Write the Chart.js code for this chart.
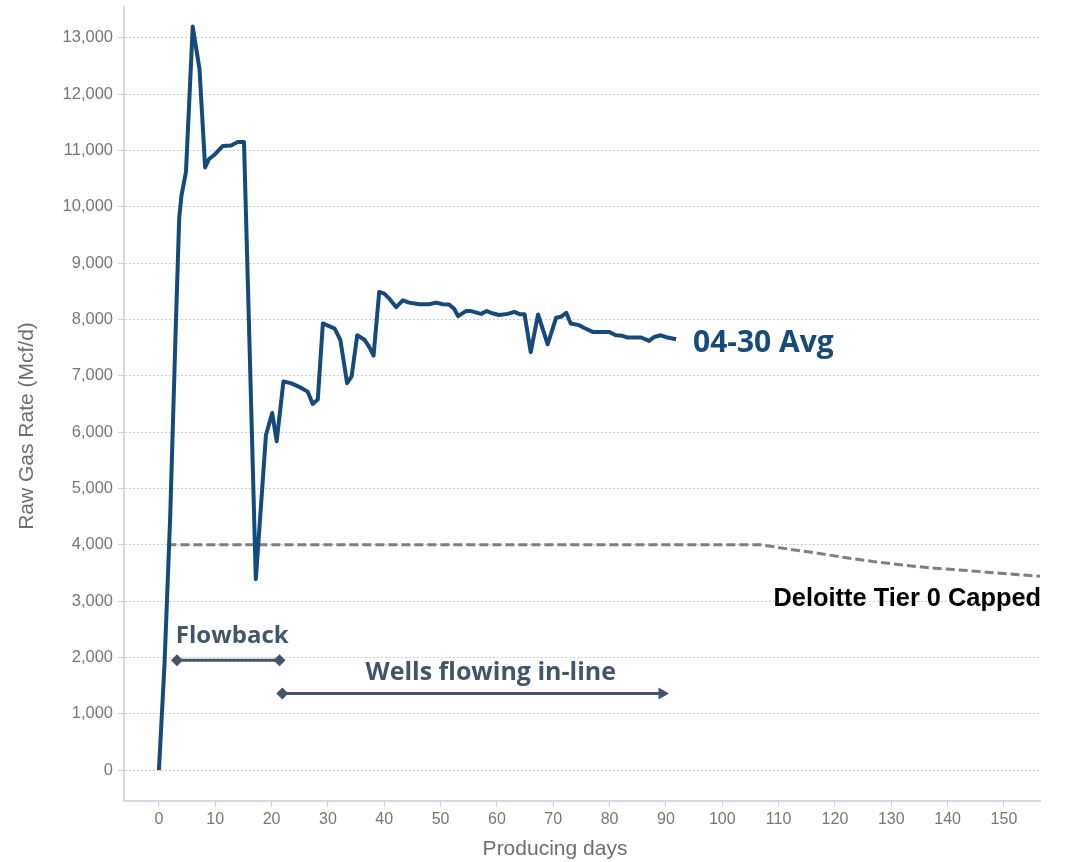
<!DOCTYPE html>
<html>
<head>
<meta charset="utf-8">
<script src="https://cdn.jsdelivr.net/npm/chart.js@4.4.0/dist/chart.umd.min.js"></script>
<style>
  html, body { margin: 0; padding: 0; background: #fff; }
  #wrap { width: 1071px; height: 862px; position: relative; }
</style>
</head>
<body>
<div id="wrap"><canvas id="c"></canvas></div>
<script>
'use strict';

// 04-30 average raw gas rate (Mcf/d) by producing day
const avgDays = [0, 1, 2, 3, 3.6, 4, 4.8, 6, 7.2, 8.2, 8.9, 9.8, 11.3, 12.8, 14, 15.1, 15.8, 17.2,
  19.0, 20.1, 20.9, 22.1, 23.4, 25.2, 26.4, 27.3, 28.2, 29.1, 30.5, 31.2, 32.2, 33.4, 34.2, 35.2,
  36.5, 37.3, 38.1, 39.1, 40.0, 40.9, 42.1, 43.3, 44.4, 46.2, 48.0, 49.2, 50.4, 51.5, 52.4, 53.1,
  54.5, 55.4, 57.2, 58.2, 59.2, 60.4, 61.9, 63.1, 64.0, 64.9, 66.0, 67.3, 69.0, 70.5, 71.4, 72.3,
  73.1, 74.6, 75.5, 77.0, 78.5, 79.9, 81.1, 82.3, 83.2, 84.4, 85.6, 87.0, 87.9, 89.1, 90.3, 91.8];
const avgRate = [0, 1900, 4500, 7900, 9800, 10200, 10620, 13200, 12450, 10700, 10850, 10920, 11080, 11090, 11150, 11150, 8600, 3390,
  5950, 6340, 5840, 6900, 6870, 6790, 6720, 6500, 6580, 7930, 7870, 7840, 7640, 6870, 6990, 7720,
  7640, 7520, 7360, 8490, 8460, 8370, 8220, 8340, 8300, 8270, 8270, 8300, 8270, 8265, 8190, 8060,
  8150, 8150, 8100, 8150, 8110, 8080, 8100, 8135, 8095, 8095, 7420, 8090, 7560, 8030, 8050, 8120,
  7930, 7900, 7850, 7780, 7780, 7780, 7720, 7710, 7680, 7680, 7680, 7620, 7690, 7720, 7680, 7650];

// Deloitte Tier 0 capped curve
const capDays = [1.5, 107, 112, 117, 122, 127, 132, 137, 142, 147, 152, 156.4];
const capRate = [4000, 4000, 3920, 3850, 3770, 3700, 3640, 3590, 3555, 3515, 3475, 3440];

// phase arrows
const flowbackDays = [3.2, 21.4];
const flowbackRate = [1950, 1950];
const inlineDays = [21.9, 89.3];
const inlineRate = [1360, 1360];

const xTicks = [0, 10, 20, 30, 40, 50, 60, 70, 80, 90, 100, 110, 120, 130, 140, 150];
const yTicks = [0, 1000, 2000, 3000, 4000, 5000, 6000, 7000, 8000, 9000, 10000, 11000, 12000, 13000];

// text annotations
const labelText = ['Flowback', 'Wells flowing in-line', '04-30 Avg', 'Deloitte Tier 0 Capped'];
const labelDay = [3.0, 58.9, 94.8, 156.6];
const labelRate = [2370, 1733, 7570, 3042];

const xTitle = 'Producing days';
const yTitle = 'Raw Gas Rate (Mcf/d)';

const labelStyle = [
  {font: 'bold 24px "Open Sans"', color: '#44546a', align: 'left'},
  {font: 'bold 25px "Open Sans"', color: '#44546a', align: 'center'},
  {font: 'bold 30px "Open Sans"', color: '#164a7b', align: 'left'},
  {font: 'bold 25.4px "Liberation Sans"', color: '#000000', align: 'right'}
];

function pts(xs, ys){
  return xs.map(function(d, i){ return {x: d, y: ys[i]}; });
}

const textLabels = {
  id: 'textLabels',
  afterDatasetsDraw(chart){
    const ctx = chart.ctx;
    const x = chart.scales.x, y = chart.scales.y;
    ctx.save();
    for(let i = 0; i < labelText.length; i++){
      ctx.font = labelStyle[i].font;
      ctx.fillStyle = labelStyle[i].color;
      ctx.textAlign = labelStyle[i].align;
      ctx.textBaseline = 'middle';
      ctx.fillText(labelText[i], x.getPixelForValue(labelDay[i]), y.getPixelForValue(labelRate[i]));
    }
    ctx.restore();
  },
  afterDraw(chart){
    // axis titles, placed a little off-centre like the original
    const ctx = chart.ctx;
    const a = chart.chartArea;
    ctx.save();
    ctx.fillStyle = '#6e6e6e';
    ctx.font = '21px "Liberation Sans"';
    ctx.textAlign = 'center';
    ctx.textBaseline = 'middle';
    ctx.fillText(xTitle, (a.left + a.right) / 2 - 27, 849);
    ctx.translate(27, (a.top + a.bottom) / 2 + 22);
    ctx.rotate(-Math.PI / 2);
    ctx.fillText(yTitle, 0, 0);
    ctx.restore();
  }
};

const arrowColor = '#44546a';

new Chart(document.getElementById('c'), {
  type: 'line',
  data: {
    datasets: [
      {
        label: '04-30 Avg',
        data: pts(avgDays, avgRate),
        borderColor: '#164a7b',
        borderWidth: 4,
        borderJoinStyle: 'round',
        pointRadius: 0,
        tension: 0,
        order: 1
      },
      {
        label: 'Deloitte Tier 0 Capped',
        data: pts(capDays, capRate),
        borderColor: '#7f7f7f',
        borderWidth: 3,
        borderDash: [9, 4],
        pointRadius: 0,
        tension: 0,
        order: 2
      },
      {
        label: 'Flowback',
        data: pts(flowbackDays, flowbackRate),
        borderColor: arrowColor,
        backgroundColor: arrowColor,
        borderWidth: 3,
        pointStyle: 'rectRot',
        pointRadius: 6,
        pointBorderWidth: 0,
        order: 0
      },
      {
        label: 'Wells flowing in-line',
        data: pts(inlineDays, inlineRate),
        borderColor: arrowColor,
        backgroundColor: arrowColor,
        borderWidth: 3,
        pointStyle: ['rectRot', 'triangle'],
        pointRotation: [0, 90],
        pointRadius: [6, 7],
        pointBorderWidth: 0,
        order: 0
      }
    ]
  },
  options: {
    responsive: true,
    maintainAspectRatio: false,
    animation: false,
    layout: { padding: { top: 4, right: 31, left: 0, bottom: 0 } },
    plugins: {
      legend: { display: false },
      tooltip: { enabled: false }
    },
    scales: {
      x: {
        type: 'linear',
        min: -6.2,
        max: 156.4,
        afterBuildTicks: function(s){ s.ticks = xTicks.map(function(v){ return {value: v}; }); },
        afterFit: function(s){ s.height = 61; s.paddingLeft = 0; s.paddingRight = 0; },
        ticks: {
          color: '#777777',
          font: { family: 'Liberation Sans', size: 16 },
          padding: 3,
          maxRotation: 0
        },
        grid: { drawOnChartArea: false, drawTicks: true, tickLength: 6, tickColor: '#cfd0da' },
        border: { display: true, color: '#d8d8e2', width: 2 }
      },
      y: {
        type: 'linear',
        min: -548,
        max: 13548,
        afterBuildTicks: function(s){ s.ticks = yTicks.map(function(v){ return {value: v}; }); },
        afterFit: function(s){ s.width = 124; s.paddingTop = 0; s.paddingBottom = 0; },
        ticks: {
          color: '#777777',
          font: { family: 'Liberation Sans', size: 16.5 },
          padding: 5,
          callback: function(v){ return v.toLocaleString('en-US'); }
        },
        grid: { color: '#cccccc', lineWidth: 1, tickLength: 6, tickColor: '#cfd0da', tickBorderDash: [] },
        border: { display: true, color: '#d8d8e2', width: 2, dash: [2, 2] }
      }
    }
  },
  plugins: [textLabels]
});
</script>
</body>
</html>
